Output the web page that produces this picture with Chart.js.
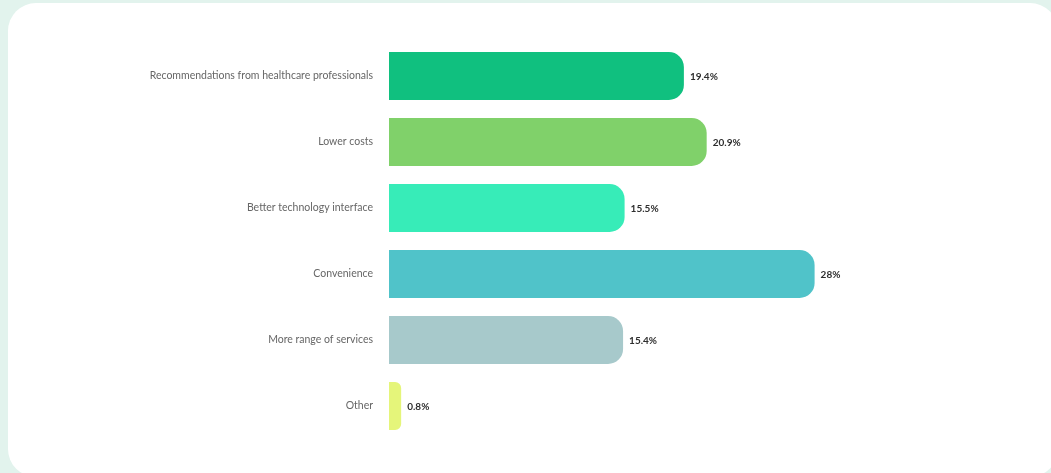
<!DOCTYPE html>
<html>
<head>
<meta charset="utf-8">
<script src="https://cdn.jsdelivr.net/npm/chart.js@4"></script>
<style>
  html, body { margin: 0; padding: 0; background: #e2f3ed; overflow: hidden; }
  .card {
    position: absolute; left: 8px; top: 3px; width: 1050px; height: 474px;
    background: #fff; border-radius: 28px;
  }
  #chart { position: absolute; left: 0; top: 0; }
</style>
</head>
<body>
<div class="card"></div>
<canvas id="chart" width="1051" height="473"></canvas>
<script>
const labels = [
    'Recommendations from healthcare professionals',
    'Lower costs',
    'Better technology interface',
    'Convenience',
    'More range of services',
    'Other'
];
const shares = [19.4, 20.9, 15.5, 28, 15.4, 0.8];
const colors = ['#10c07f', '#80d16a', '#37ecb8', '#50c3c9', '#a7c9cb', '#e5f57a'];

// percentage text just past the rounded end of each bar
const valueLabels = {
    id: 'valueLabels',
    afterDatasetsDraw(chart) {
        const ctx = chart.ctx;
        const meta = chart.getDatasetMeta(0);
        ctx.save();
        ctx.font = '700 10px Lato';
        ctx.fillStyle = '#2e2e2e';
        ctx.textBaseline = 'middle';
        meta.data.forEach((bar, i) => {
            ctx.fillText(shares[i] + '%', bar.x + 6, bar.y + 1);
        });
        ctx.restore();
    }
};

const chart = document.querySelector('#chart').getContext('2d');

new Chart(chart, {
    type: 'bar',
    data: {
        labels: labels,
        datasets: [{
            data: shares,
            backgroundColor: colors,
            borderRadius: { topRight: 15, bottomRight: 15 },
            borderSkipped: false,
            categoryPercentage: 0.727,
            barPercentage: 1
        }]
    },
    options: {
        indexAxis: 'y',
        responsive: false,
        animation: false,
        layout: { padding: { top: 43, bottom: 34, left: 0, right: 206 } },
        plugins: {
            legend: { display: false },
            tooltip: { enabled: false }
        },
        scales: {
            x: { display: false, min: 0, max: 30 },
            y: {
                grid: { display: false },
                border: { display: false },
                ticks: {
                    padding: 8,
                    color: '#666',
                    font: { family: 'Lato', size: 10.5 }
                },
                afterFit(scale) { scale.width = 389; }
            }
        }
    },
    plugins: [valueLabels]
});
</script>
</body>
</html>
